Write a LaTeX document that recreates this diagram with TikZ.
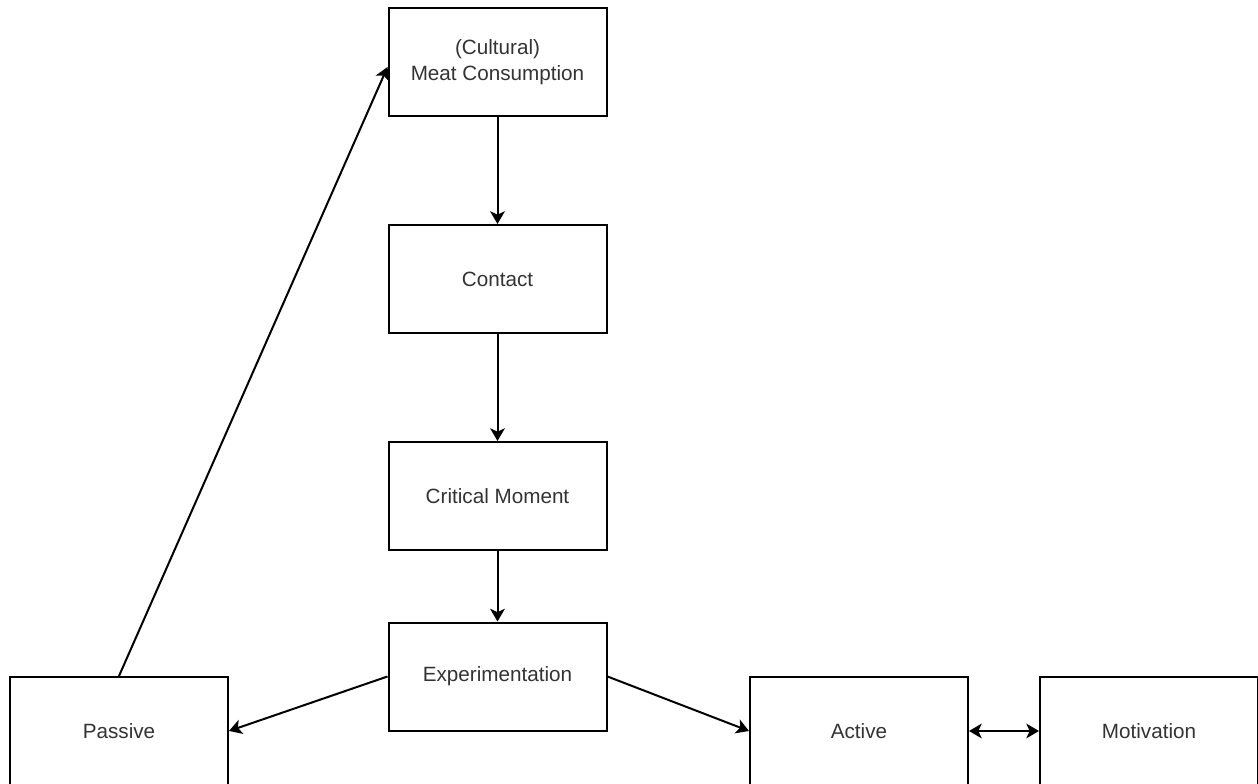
\documentclass[tikz,border=0pt]{standalone}
\usepackage{fontspec}
\setmainfont{Liberation Sans}
\usetikzlibrary{arrows.meta}

\tikzset{
  stagebox/.style={draw, line width=1.5pt, minimum width=163.5pt, minimum height=81pt, align=center, font=\fontsize{15.5}{19}\selectfont, text=black!80, inner sep=0pt},
  flow/.style={line width=1.5pt, -{Stealth[length=9.5pt,width=11pt,inset=2.5pt]}},
  twoway/.style={line width=1.5pt, {Stealth[length=9.5pt,width=11pt,inset=2.5pt]}-{Stealth[length=9.5pt,width=11pt,inset=2.5pt]}}
}

\begin{document}
\begin{tikzpicture}[x=0.75pt,y=-0.75pt]
\useasboundingbox (0,0) rectangle (1258,784);
\node[stagebox] (meat) at (497.5,62) {(Cultural)\\Meat Consumption};
\node[stagebox] (contact) at (497.5,279) {Contact};
\node[stagebox] (critical) at (497.5,496) {Critical Moment};
\node[stagebox] (exp) at (497.5,676.5) {Experimentation};
\node[stagebox] (passive) at (119,731) {Passive};
\node[stagebox] (active) at (859,731) {Active};
\node[stagebox] (motivation) at (1149,731) {Motivation};
\draw[flow] (meat) -- (contact);
\draw[flow] (contact) -- (critical);
\draw[flow] (critical) -- (exp);
\draw[flow] (exp.west) -- (passive.east);
\draw[flow] (exp.east) -- (active.west);
\draw[twoway] (active.east) -- (motivation.west);
\draw[flow] (passive.north) -- ([yshift=-3.75pt]meat.west);
\end{tikzpicture}
\end{document}
